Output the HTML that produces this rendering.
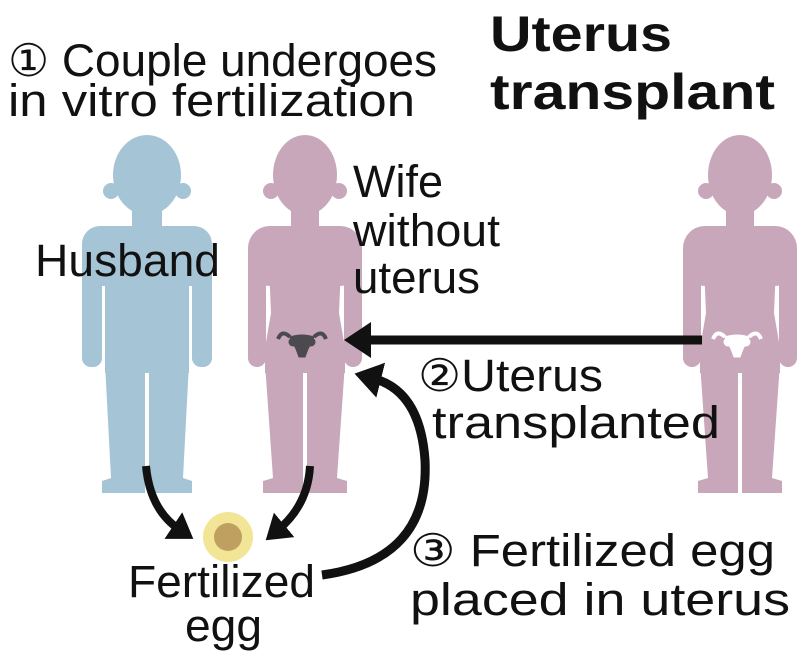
<!DOCTYPE html>
<html><head><meta charset="utf-8"><style>
html,body{margin:0;padding:0;background:#fff;}
svg{display:block;}
text{font-family:"Liberation Sans",sans-serif;fill:#111;}
</style></head><body>
<svg width="800" height="652" viewBox="0 0 800 652" xmlns="http://www.w3.org/2000/svg">
<defs>
<g id="man">
  <ellipse cx="0" cy="42" rx="34" ry="40"/>
  <circle cx="-36" cy="58" r="8"/><circle cx="36" cy="58" r="8"/>
  <rect x="-15" y="70" width="30" height="30"/>
  <rect x="-65" y="93" width="130" height="60" rx="18"/>
  <rect x="-65" y="110" width="20" height="124" rx="9"/>
  <rect x="45" y="110" width="20" height="124" rx="9"/>
  <rect x="-42" y="110" width="84" height="130"/>
  <path d="M-42 230 L-2 230 L-2 360 L-45 360 L-45 348 L-36 345 Z"/>
  <path d="M2 230 L42 230 L36 345 L45 348 L45 360 L2 360 Z"/>
</g>
<g id="woman">
  <ellipse cx="0" cy="42" rx="32" ry="40"/>
  <circle cx="-34" cy="58" r="8"/><circle cx="34" cy="58" r="8"/>
  <rect x="-14" y="70" width="28" height="30"/>
  <rect x="-57" y="93" width="114" height="60" rx="22"/>
  <rect x="-57" y="110" width="18" height="124" rx="9"/>
  <rect x="39" y="110" width="18" height="124" rx="9"/>
  <path d="M-37 110 L37 110 L34 180 L40 215 L40 240 L-40 240 L-40 215 L-34 180 Z"/>
  <path d="M-40 230 L-2 230 L-2 360 L-42 360 L-42 348 L-32 345 Z"/>
  <path d="M2 230 L40 230 L32 345 L42 348 L42 360 L2 360 Z"/>
</g>
<g id="uterus">
  <path d="M-12 -6 Q0 -10 12 -6 L6 6 L3 14 L-3 14 L-6 6 Z"/>
  <path d="M-12 -6 Q-20 -14 -24 -4" fill="none" stroke-width="4"/>
  <path d="M12 -6 Q20 -14 24 -4" fill="none" stroke-width="4"/>
  <circle cx="-9" cy="-1" r="4"/><circle cx="9" cy="-1" r="4"/>
</g>
<marker id="ah" markerWidth="4" markerHeight="4" refX="1" refY="2" orient="auto" markerUnits="strokeWidth">
  <path d="M0 0 L3 2 L0 4 Z" fill="#111"/>
</marker>
</defs>

<g fill="#a5c4d6" transform="translate(147,133)"><use href="#man"/></g>
<g fill="#c9a7ba" transform="translate(305,133)"><use href="#woman"/></g>
<g fill="#c9a7ba" transform="translate(740,133)"><use href="#woman"/></g>

<g fill="#4a4a4f" stroke="#4a4a4f" transform="translate(302,343)"><use href="#uterus"/></g>
<g fill="#fff" stroke="#fff" transform="translate(737,343)"><use href="#uterus"/></g>

<line x1="702" y1="340" x2="362" y2="340" stroke="#111" stroke-width="9" marker-end="url(#ah)"/>
<path d="M322 575 Q430 560 425 460 Q420 390 372 378" fill="none" stroke="#111" stroke-width="9" marker-end="url(#ah)"/>
<path d="M146 466 Q150 510 180 530" fill="none" stroke="#111" stroke-width="8" marker-end="url(#ah)"/>
<path d="M310 466 Q308 505 278 530" fill="none" stroke="#111" stroke-width="8" marker-end="url(#ah)"/>

<circle cx="228" cy="537" r="25" fill="#f3e596"/>
<circle cx="228" cy="537" r="14" fill="#c0a060"/>

<g font-size="45">
<text x="8" y="76" textLength="429" lengthAdjust="spacingAndGlyphs">① Couple undergoes</text>
<text x="8" y="116" textLength="407" lengthAdjust="spacingAndGlyphs">in vitro fertilization</text>
<text x="35" y="276" textLength="185" lengthAdjust="spacingAndGlyphs">Husband</text>
<text x="353" y="197" textLength="90" lengthAdjust="spacingAndGlyphs">Wife</text>
<text x="353" y="246" textLength="147" lengthAdjust="spacingAndGlyphs">without</text>
<text x="353" y="293" textLength="127" lengthAdjust="spacingAndGlyphs">uterus</text>
<text x="418" y="391" textLength="185" lengthAdjust="spacingAndGlyphs">②Uterus</text>
<text x="432" y="438" textLength="288" lengthAdjust="spacingAndGlyphs">transplanted</text>
<text x="410" y="566" textLength="365" lengthAdjust="spacingAndGlyphs">③ Fertilized egg</text>
<text x="410" y="615" textLength="380" lengthAdjust="spacingAndGlyphs">placed in uterus</text>
<text x="128" y="597" textLength="187" lengthAdjust="spacingAndGlyphs">Fertilized</text>
<text x="185" y="641" textLength="77" lengthAdjust="spacingAndGlyphs">egg</text>
</g>
<g font-size="50" font-weight="bold">
<text x="490" y="51" textLength="182" lengthAdjust="spacingAndGlyphs">Uterus</text>
<text x="490" y="109" textLength="285" lengthAdjust="spacingAndGlyphs">transplant</text>
</g>
</svg>
</body></html>
